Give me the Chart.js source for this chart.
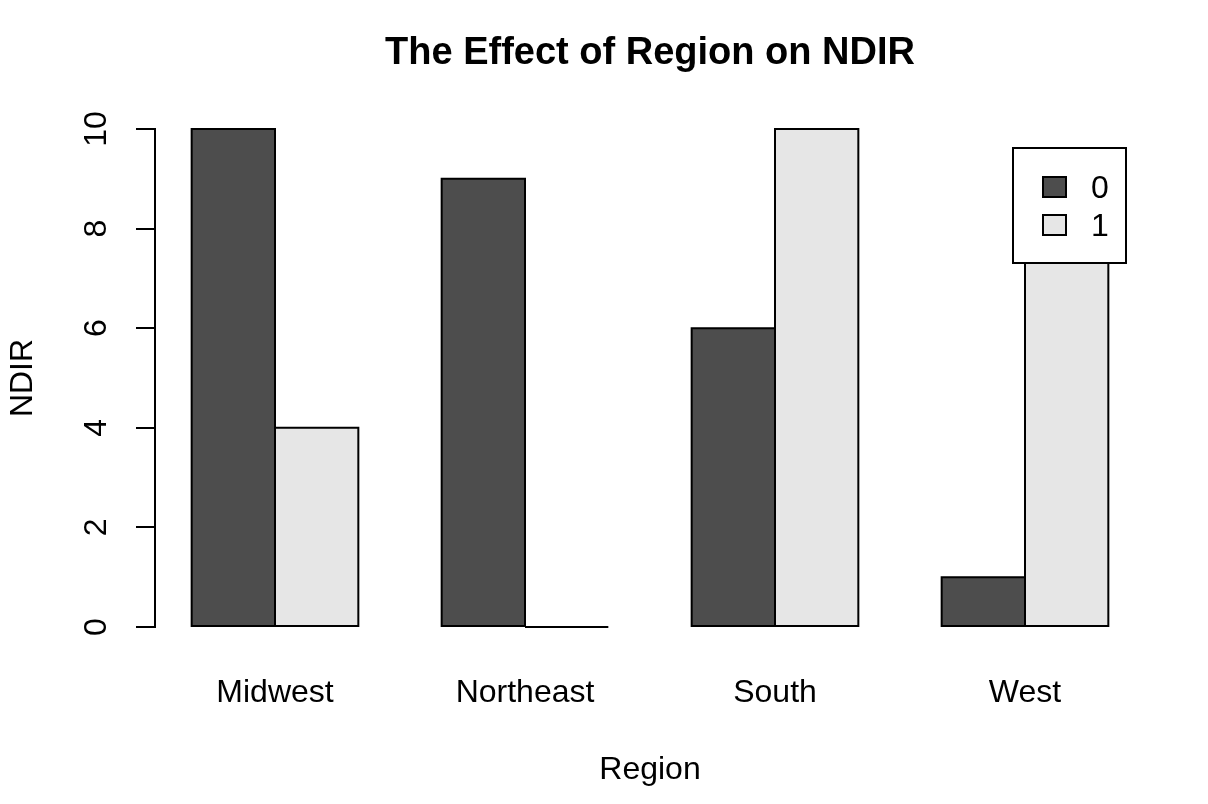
<!DOCTYPE html>
<html>
<head>
<meta charset="utf-8">
<script src="https://cdn.jsdelivr.net/npm/chart.js@4/dist/chart.umd.min.js"></script>
<style>
  html, body { margin: 0; padding: 0; background: #fff; }
  #wrap { width: 1208px; height: 804px; }
</style>
</head>
<body>
<div id="wrap"><canvas id="c" width="1208" height="804"></canvas></div>
<script>
const categories = ['Midwest', 'Northeast', 'South', 'West'];
const seriesLabels = ['0', '1'];
const ndir0 = [10, 9, 6, 1];
const ndir1 = [4, 0, 10, 9];
const yTicks = [0, 2, 4, 6, 8, 10];
const seriesColors = ['#4D4D4D', '#E6E6E6'];

const FONT = "'Liberation Sans', Arial, Helvetica, sans-serif";

const toPoints = arr => arr.map((v, i) => ({ x: i, y: v }));

const extras = {
  id: 'extras',
  afterDatasetsDraw(chart) {
    const ctx = chart.ctx;
    ctx.save();
    // R-style bar outlines, centred on the bar edges (zero-height bars become a line)
    ctx.strokeStyle = '#000';
    ctx.lineWidth = 2;
    chart.data.datasets.forEach((ds, di) => {
      const meta = chart.getDatasetMeta(di);
      meta.data.forEach(el => {
        const p = el.getProps(['x', 'y', 'base', 'width'], true);
        const top = Math.min(p.y, p.base), bottom = Math.max(p.y, p.base);
        ctx.beginPath();
        ctx.rect(p.x - p.width / 2, top, p.width, bottom - top);
        ctx.stroke();
      });
    });
    // legend box (top right, inside plot)
    const bx = 1013, by = 148, bw = 113, bh = 115;
    ctx.fillStyle = '#fff';
    ctx.fillRect(bx, by, bw, bh);
    ctx.strokeRect(bx, by, bw, bh);
    ctx.font = '32px ' + FONT;
    ctx.textBaseline = 'middle';
    ctx.textAlign = 'left';
    chart.data.datasets.forEach((ds, i) => {
      const cy = 187 + i * 38;
      ctx.fillStyle = ds.backgroundColor;
      ctx.fillRect(1043, cy - 10, 23, 20);
      ctx.strokeRect(1043, cy - 10, 23, 20);
      ctx.fillStyle = '#000';
      ctx.fillText(ds.label, 1091, cy + 2);
    });
    ctx.restore();
  }
};

Chart.defaults.color = '#000';
Chart.defaults.font.family = FONT;

new Chart(document.getElementById('c'), {
  type: 'bar',
  data: {
    datasets: [
      { label: seriesLabels[0], data: toPoints(ndir0), backgroundColor: seriesColors[0], borderWidth: 0 },
      { label: seriesLabels[1], data: toPoints(ndir1), backgroundColor: seriesColors[1], borderWidth: 0 }
    ]
  },
  options: {
    responsive: false,
    animation: false,
    devicePixelRatio: 1,
    categoryPercentage: 2 / 3,
    barPercentage: 1,
    layout: { padding: { left: 0, right: 63, top: 0, bottom: 0 } },
    plugins: {
      legend: { display: false },
      tooltip: { enabled: false },
      title: {
        display: true,
        text: 'The Effect of Region on NDIR',
        fullSize: false,
        font: { size: 38, weight: 'bold', family: FONT },
        color: '#000',
        padding: { top: 31, bottom: 52.4 }
      }
    },
    scales: {
      x: {
        type: 'linear',
        offset: false,
        min: -0.48,
        max: 3.48,
        grid: { display: false, drawTicks: false },
        border: { display: false },
        afterBuildTicks: s => { s.ticks = categories.map((_, i) => ({ value: i })); },
        afterFit: s => { s.height = 177; },
        ticks: {
          autoSkip: false,
          maxRotation: 0,
          padding: 47,
          font: { size: 32 },
          callback: v => categories[v]
        },
        title: { display: true, text: 'Region', font: { size: 32 }, padding: { top: 15, bottom: 15 } }
      },
      y: {
        min: 0,
        max: 10,
        afterBuildTicks: s => { s.ticks = yTicks.map(v => ({ value: v })); },
        afterFit: s => { s.width = 155; },
        grid: { display: true, drawOnChartArea: false, drawTicks: true, tickLength: 19, color: '#000', lineWidth: 2 },
        border: { display: true, color: '#000', width: 2 },
        ticks: {
          minRotation: 90,
          maxRotation: 90,
          crossAlign: 'center',
          padding: 21,
          font: { size: 32 }
        },
        title: { display: true, text: 'NDIR', font: { size: 32 }, padding: { top: 4, bottom: 0 } }
      }
    }
  },
  plugins: [extras]
});
</script>
</body>
</html>
